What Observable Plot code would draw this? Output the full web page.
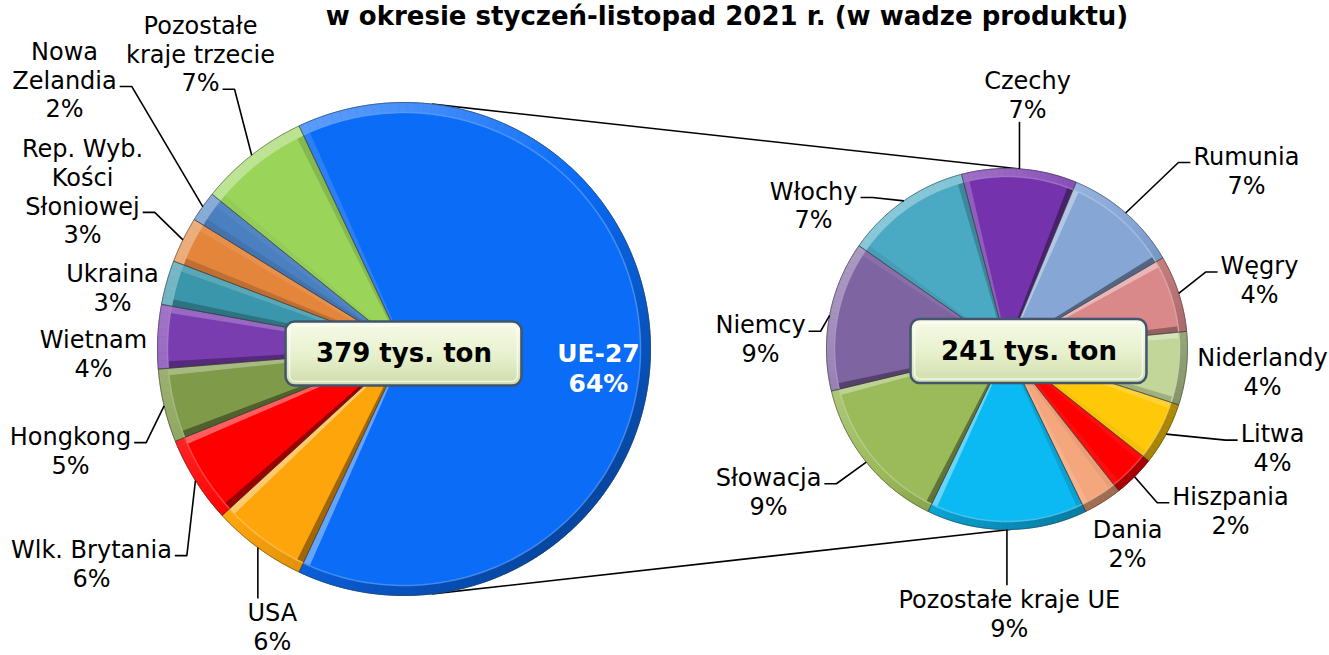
<!DOCTYPE html>
<html>
<head>
<meta charset="utf-8">
<script src="https://cdn.jsdelivr.net/npm/d3@7"></script>
<script src="https://cdn.jsdelivr.net/npm/@observablehq/plot@0.6"></script>
<style>
  body { margin: 0; background: #ffffff; }
  #chart { width: 1329px; height: 655px; overflow: hidden; }
</style>
</head>
<body>
<div id="chart"></div>
<script>
// ---------------- DATA ----------------
const titleText = "w okresie styczeń-listopad 2021 r. (w wadze produktu)";
const totalAll = 379;   // tys. ton – all destinations
const totalEU = 241;    // tys. ton – UE-27
const unitText = "tys. ton";

// main pie: share of total export (%)
const outerNames = ["UE-27", "USA", "Wlk. Brytania", "Hongkong", "Wietnam", "Ukraina",
  "Rep. Wyb.\nKości\nSłoniowej", "Nowa\nZelandia", "Pozostałe\nkraje trzecie"];
const outerShares = [64.0, 6.2, 5.7, 4.8, 4.2, 2.9, 3.0, 2.0, 7.2];

// secondary pie: breakdown of UE-27 (% of total export)
const innerNames = ["Czechy", "Rumunia", "Węgry", "Niderlandy", "Litwa", "Hiszpania", "Dania",
  "Pozostałe kraje UE", "Słowacja", "Niemcy", "Włochy"];
const innerShares = [6.6, 6.6, 4.4, 4.2, 3.6, 2.4, 2.2, 9.2, 9.0, 8.6, 7.2];

// ---------------- STYLE / LAYOUT ----------------
const outerColors = ["#0a6cf7", "#ffa50c", "#ff0000", "#7f9a48", "#7a3db0", "#3a96aa", "#e3853a", "#4a80c0", "#9ad55a"];
const innerColors = ["#7433ac", "#86a6d6", "#d9898a", "#c2d69a", "#ffc90a", "#ff0000", "#f4a67c", "#0bbaf3", "#9bba5a", "#7f64a2", "#4aaac4"];

const W = 1329, H = 655;
const FONT = "DejaVu Sans";
const LABEL_SIZE = 24, LINE_H = 1.2;
const pieL = {cx: 403.5, cy: 348.5, r: 246.5, band: 10, edge: 7};
const pieR = {cx: 1006.5, cy: 348.5, r: 180.5, band: 8, edge: 6, start: -14.6};
// label placement: [angle° (clockwise from top), distance from pie centre, leader]
// leader: null = none, "v" = vertical, number = index of text line carrying the stub
const outerLabelLayout = [[95.3, 195.3, null], [205.4, 307.1, "v"], [235.6, 378.8, 0], [253.15, 348.5, 0],
  [269.26, 310.5, null], [282.0, 298, null], [296.17, 358.2, 2], [308.45, 433.5, 1], [325.45, 358.8, 2]];
const innerLabelLayout = [[4.6, 255.8, "v"], [53.2, 299, 0], [74.6, 261.9, 0], [94.9, 256.4, null],
  [110.35, 283.2, 0], [125.8, 275.5, 0], [148.2, 228.8, null], [179.5, 264, "v"], [239.2, 277.6, 0],
  [272.4, 246.7, 0], [306.7, 241.2, 0]];
// connector angles (left pie top/bottom -> right pie top/bottom)
const connectors = [[6.6, 3.6], [173.4, 178.9]];
// total boxes: offset of box centre from pie centre
const boxOffsets = [[0, 5], [22, 2.5]];
const LIGHT = 315; // light direction (top-left)

// ---------------- HELPERS ----------------
const rad = (d) => d * Math.PI / 180;
const polar = (p, deg, r) => ({x: p.cx + r * Math.sin(rad(deg)), y: p.cy - r * Math.cos(rad(deg))});
const ctx = document.createElement("canvas").getContext("2d");
function textWidth(t, size, weight) { ctx.font = `${weight || "normal"} ${size}px "${FONT}"`; return ctx.measureText(t).width; }
function shade(c, light, k) {
  return light > 0 ? d3.interpolateRgb(c, "#ffffff")(light * k) : d3.interpolateRgb(c, "#000000")(-light * k);
}

function buildSlices(names, shares, colors, pie, start, key) {
  const sum = d3.sum(shares);
  let a = start;
  return names.map((n, i) => {
    const span = shares[i] / sum * 360;
    const s = {key: key + i, name: n, share: shares[i], a0: a, a1: a + span, mid: a + span / 2, color: colors[i], pie};
    a += span;
    return s;
  });
}
const outerStart = 90 - outerShares[0] / d3.sum(outerShares) * 360 / 2;
const outerSlices = buildSlices(outerNames, outerShares, outerColors, pieL, outerStart, "L");
const innerSlices = buildSlices(innerNames, innerShares, innerColors, pieR, pieR.start, "R");
const allSlices = outerSlices.concat(innerSlices);

// slice polygons
const slicePts = [];
for (const s of allSlices) {
  const p = s.pie;
  slicePts.push({id: s.key, fill: s.color, x: p.cx, y: p.cy});
  const n = Math.max(2, Math.ceil((s.a1 - s.a0) / 0.5));
  for (let k = 0; k <= n; k++) {
    const q = polar(p, s.a0 + (s.a1 - s.a0) * k / n, p.r);
    slicePts.push({id: s.key, fill: s.color, ...q});
  }
  slicePts.push({id: s.key, fill: s.color, x: p.cx, y: p.cy});
}
// bevel strips along radial edges
const edgePts = [];
for (const s of allSlices) {
  const p = s.pie;
  [[s.a0, +1], [s.a1, -1]].forEach(([a, dir], j) => {
    const outward = a - 90 * dir;
    const col = shade(s.color, Math.cos(rad(outward - LIGHT)), 0.4);
    const nAng = a + 90 * dir;
    const nx = Math.sin(rad(nAng)), ny = -Math.cos(rad(nAng));
    const r0 = p.r * 0.12, r1 = p.r - p.band;
    const maxW = Math.min(p.edge, rad(s.a1 - s.a0) * r1 * 0.45);
    const A = polar(p, a, r0), B = polar(p, a, r1);
    const id = s.key + "e" + j;
    [A, B, {x: B.x + nx * maxW, y: B.y + ny * maxW}, {x: A.x + nx * maxW * 0.3, y: A.y + ny * maxW * 0.3}]
      .forEach((q) => edgePts.push({id, fill: col, ...q}));
  });
}
// bevel band along the rim (light from top-left)
const bandPts = [];
for (const s of allSlices) {
  const p = s.pie;
  const n = Math.max(1, Math.ceil((s.a1 - s.a0) / 2));
  for (let k = 0; k < n; k++) {
    const a = s.a0 + (s.a1 - s.a0) * k / n, b = s.a0 + (s.a1 - s.a0) * (k + 1) / n;
    const col = shade(s.color, Math.cos(rad((a + b) / 2 - LIGHT)), 0.35);
    const id = s.key + "_" + k;
    const pts = [polar(p, a, p.r), polar(p, (a + b) / 2, p.r), polar(p, b, p.r),
                 polar(p, b, p.r - p.band), polar(p, a, p.r - p.band)];
    for (const q of pts) bandPts.push({id, fill: col, ...q});
  }
}
// inner highlight ridge line
const ridgePts = [];
for (const s of allSlices) {
  const p = s.pie;
  const n = Math.max(2, Math.ceil((s.a1 - s.a0) / 1));
  for (let k = 0; k <= n; k++) {
    const q = polar(p, s.a0 + (s.a1 - s.a0) * k / n, p.r - p.band);
    ridgePts.push({id: s.key, stroke: d3.interpolateRgb(s.color, "#ffffff")(0.35), ...q});
  }
}

// labels
function buildLabels(slices, layout) {
  return slices.map((s, i) => {
    const [ang, dist, leader] = layout[i];
    const c = polar(s.pie, ang, dist);
    return {...c, text: s.name + "\n" + Math.round(s.share) + "%", slice: s, leader, key: s.key};
  });
}
const labels = buildLabels(outerSlices, outerLabelLayout).concat(buildLabels(innerSlices, innerLabelLayout));
const mainLabel = labels[0];
const otherLabels = labels.slice(1);

const leaderPts = [];
for (const l of labels) {
  if (l.leader === null || l.leader === undefined) continue;
  const p = l.slice.pie;
  const rim = polar(p, l.slice.mid, p.r);
  const lines = l.text.split("\n");
  const lh = LABEL_SIZE * LINE_H;
  const top = l.y - lines.length * lh / 2;
  let pts;
  if (l.leader === "v") {
    const yEdge = rim.y < l.y ? top + 1 : top + lines.length * lh - 1;
    pts = [rim, {x: rim.x, y: yEdge}];
  } else {
    const k = l.leader;
    const ly = top + (k + 0.5) * lh + 7;
    const w = textWidth(lines[k], LABEL_SIZE);
    const side = rim.x > l.x ? 1 : -1;
    const x0 = l.x + side * (w / 2 + 3);
    pts = [{x: x0, y: ly}, {x: x0 + side * 12, y: ly}, rim];
  }
  for (const q of pts) leaderPts.push({id: l.key, ...q});
}

// connectors
const connPts = [];
connectors.forEach(([aL, aR], i) => {
  connPts.push({id: "c" + i, ...polar(pieL, aL, pieL.r)});
  connPts.push({id: "c" + i, ...polar(pieR, aR, pieR.r)});
});

// total boxes
const BOX_SIZE = 26, BOX_PAD = 30, BOX_H = 64;
const boxes = [[pieL, totalAll], [pieR, totalEU]].map(([p, v], i) => {
  const text = `${v} ${unitText}`;
  const w = textWidth(text, BOX_SIZE, "bold") + 2 * BOX_PAD;
  const cx = p.cx + boxOffsets[i][0], cy = p.cy + boxOffsets[i][1];
  return {text, x: cx, y: cy, x1: cx - w / 2, x2: cx + w / 2, y1: cy - BOX_H / 2, y2: cy + BOX_H / 2,
          ix1: cx - w / 2 + 4, ix2: cx + w / 2 - 4, iy1: cy - BOX_H / 2 + 4, iy2: cy + BOX_H / 2 - 4};
});

const defs = () => {
  const d = d3.create("svg:defs");
  const g = d.append("linearGradient").attr("id", "boxGrad").attr("x1", 0).attr("y1", 0).attr("x2", 0).attr("y2", 1);
  g.append("stop").attr("offset", "0%").attr("stop-color", "#f7fbe8");
  g.append("stop").attr("offset", "55%").attr("stop-color", "#e6f0cc");
  g.append("stop").attr("offset", "100%").attr("stop-color", "#cfdcaa");
  return d.node();
};

const chart = Plot.plot({
  width: W, height: H, margin: 0,
  x: {domain: [0, W], range: [0, W], axis: null},
  y: {domain: [0, H], range: [0, H], axis: null},
  color: {type: "identity"},
  style: {fontFamily: FONT, background: "#ffffff"},
  marks: [
    defs,
    Plot.line(connPts, {x: "x", y: "y", z: "id", stroke: "#000000", strokeWidth: 1.6}),
    Plot.line(slicePts, {x: "x", y: "y", z: "id", fill: "fill", stroke: "fill", strokeWidth: 0.5}),
    Plot.line(edgePts, {x: "x", y: "y", z: "id", fill: "fill", stroke: "none"}),
    Plot.line(bandPts, {x: "x", y: "y", z: "id", fill: "fill", stroke: "fill", strokeWidth: 0.6}),
    Plot.line(ridgePts, {x: "x", y: "y", z: "id", stroke: "stroke", strokeWidth: 1.5, strokeOpacity: 0.7}),
    Plot.line(slicePts, {x: "x", y: "y", z: "id", stroke: "#3a3a3a", strokeOpacity: 0.5, strokeWidth: 1}),
    Plot.line(leaderPts, {x: "x", y: "y", z: "id", stroke: "#000000", strokeWidth: 1.6, strokeLinecap: "butt", strokeLinejoin: "miter"}),
    Plot.rect(boxes, {x1: "x1", x2: "x2", y1: "y1", y2: "y2", rx: 9, fill: "url(#boxGrad)", stroke: "#42556c", strokeWidth: 2.5}),
    Plot.rect(boxes, {x1: "ix1", x2: "ix2", y1: "iy1", y2: "iy2", rx: 6, fill: "none", stroke: "#ffffff", strokeOpacity: 0.7, strokeWidth: 1.5}),
    Plot.text(boxes, {x: "x", y: "y", text: "text", fontSize: BOX_SIZE, fontWeight: "bold", fill: "#000000"}),
    Plot.text(otherLabels, {x: "x", y: "y", text: "text", fontSize: LABEL_SIZE, lineHeight: LINE_H, fill: "#000000"}),
    Plot.text([mainLabel], {x: "x", y: "y", text: "text", fontSize: 25, lineHeight: LINE_H, fontWeight: "bold", fill: "#ffffff"}),
    Plot.text([titleText], {x: 726.5, y: 16, text: (d) => d, fontSize: 26, fontWeight: "bold", fill: "#000000"})
  ]
});
document.getElementById("chart").appendChild(chart);
</script>
</body>
</html>
